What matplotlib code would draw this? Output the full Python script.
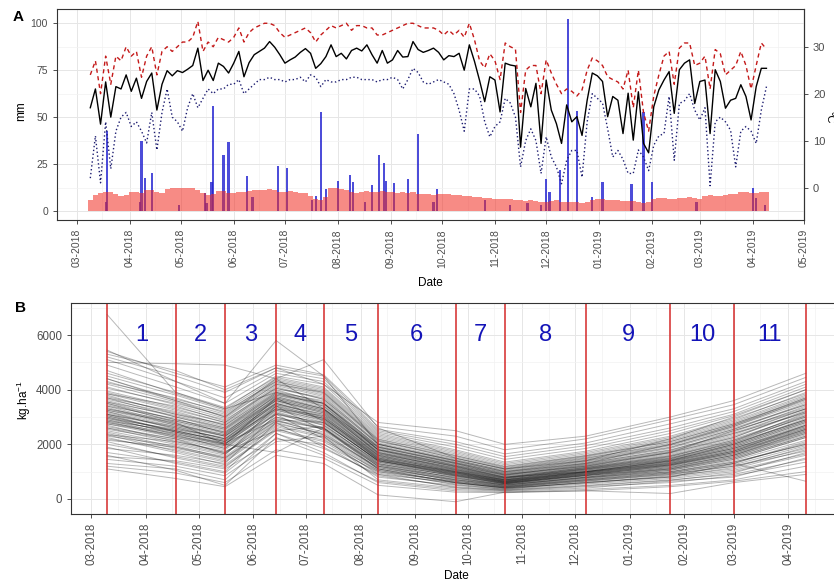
import numpy as np
import pandas as pd
import matplotlib
matplotlib.use("Agg")
import matplotlib.pyplot as plt
import matplotlib.dates as mdates
from matplotlib.ticker import MultipleLocator

plt.rcParams["font.family"] = ["Liberation Sans", "DejaVu Sans"]
plt.rcParams["mathtext.fontset"] = "custom"
plt.rcParams["mathtext.rm"] = "Liberation Sans"
plt.rcParams["mathtext.default"] = "regular"

# weather station, one reading every third day from 9 March 2018
weather_start = "2018-03-09"

tmean = [17, 21, 13.5, 22.5, 15, 21.5, 21, 24, 20.5, 23.3, 19, 22.6, 24.4, 16.5, 22, 24.9,
         23.8, 24.9, 24.5, 25.2, 26, 29.7, 22.8, 25, 22.8, 26.5, 25.8, 24.4, 26.5, 29, 23.6,
         26.6, 28.3, 29, 29.7, 31.1, 29.9, 28.3, 26.5, 27.2, 27.8, 28.8, 29.6, 28.6, 25.4,
         26.4, 27.9, 30.4, 27.9, 28.6, 27.4, 29.2, 29.7, 29.1, 30.4, 28.3, 26.5, 29.2, 26.5,
         27.2, 29.2, 27.8, 27.9, 31.1, 29.4, 28.8, 29.2, 29.7, 28.8, 27.2, 28.1, 27.9, 28.6,
         25, 30.4, 26.9, 22.8, 18.3, 23.6, 22.9, 16.1, 26.5, 26.1, 25.9, 8.6, 21.1, 17.2,
         22.2, 9.4, 22.9, 16.5, 13.6, 9.4, 17.6, 14, 15.1, 11.1, 18.6, 24.4, 23.8, 22.6,
         15.1, 19.4, 18.6, 11.5, 20.1, 10.1, 20.4, 9.4, 7.4, 17.2, 20.8, 22.9, 24.7, 15.8,
         25.1, 26.5, 27.2, 17.9, 22.6, 22.9, 11.5, 25.1, 22.6, 16.9, 18.6, 19, 21.9, 19.4,
         14.4, 21.5, 25.4, 25.4]

tmax = [24, 27, 20, 28, 22, 28, 27, 30, 28, 29, 23.5, 28, 30, 24, 29, 30,
        29, 30, 31, 31, 32, 35.4, 29, 31, 30, 32, 31.5, 31, 32, 34, 31,
        33, 34, 34.5, 35, 35, 34.5, 33, 32, 32.5, 33, 33.5, 34, 33, 31,
        32.5, 33.5, 34.5, 34, 34.5, 35, 33.5, 34.5, 34.5, 34, 34, 32.5, 32.5, 33,
        33.5, 34, 34.5, 35, 35, 34.5, 34, 34, 34, 33.5, 32.5, 33.5, 32.5, 33.5,
        32, 35, 31.5, 27, 25.5, 28.5, 27, 23, 30.8, 30, 29.5, 16, 25, 26,
        26, 20, 27.2, 24.4, 22, 20, 21, 20.5, 19.5, 20.8, 25, 27.6, 27, 26,
        23.6, 23, 22.5, 21, 25, 17, 25, 16, 12, 19.5, 24, 28, 29, 22,
        29.7, 30.8, 30.8, 26, 26.5, 28, 21, 29.4, 28.5, 24, 25, 26, 29, 26,
        21, 26, 30.8, 29.5]

tmin = [2, 11, 1, 14, 4, 12, 15, 16, 13, 14, 12, 9.5, 16, 8, 16, 21,
        15, 14, 12, 17, 20, 17, 19, 21, 20, 21, 21, 22, 22, 23, 20,
        21, 22, 23, 23, 23.5, 23, 23, 22.5, 23, 23, 23.5, 22.5, 24, 23.5,
        21.5, 23, 22.5, 22.5, 23, 23, 23.5, 23.5, 23, 23, 23, 22.5, 23, 23,
        23.5, 23, 21, 23, 25.4, 24.5, 22.5, 22, 22.5, 23, 22.5, 22, 20, 16.5,
        12, 21, 21, 19.5, 14, 10.8, 13, 14, 19, 18, 15, 4.4, 10, 12.5,
        10, 3, 10.8, 6.5, 4.4, 0.8, 5.8, 7.9, 7.9, 2.2, 14, 20, 19, 18,
        12.5, 6.5, 7.9, 6, 3, 3, 8, 6.5, 3.6, 9, 11, 11.5, 19.4, 5.8,
        17.9, 18.5, 20, 16.5, 14.4, 17, 0.4, 14, 15, 14, 12.2, 4.4, 12, 13,
        12, 9.4, 16.5, 21.5]

# evapotranspiration (mm) on the same days
evap = [6, 8.5, 9.5, 10, 10, 9, 8, 8.5, 10, 10, 9.5, 11, 11, 10, 9.5, 11.5,
        12, 12, 12, 12.5, 12, 11, 9.5, 8.5, 9, 10.5, 10.5, 9.5, 9.5, 10, 10,
        10.5, 11, 11, 11, 11.5, 11, 10, 10, 10.5, 10, 9.5, 9.5, 8, 6.5,
        6, 7.5, 12, 12.5, 11.5, 11, 10, 9.5, 10, 10.5, 10, 10, 10.5, 10,
        10, 9.5, 10, 9.5, 10, 9, 9, 9, 8.5, 9, 9, 9, 8.5, 8.5,
        8, 8, 7.5, 7.5, 7, 7, 6.5, 6.5, 6.5, 6.5, 6, 6, 5.5, 6,
        5.5, 5, 5, 5.5, 6, 5, 5, 5, 5, 4.5, 5, 6, 6.5, 6.5,
        6, 6, 6, 5.5, 5.5, 5.5, 5, 4.5, 5, 6.5, 7, 7, 6.5, 6.5,
        7, 7, 7.5, 7, 6.5, 8, 8.5, 8, 8, 8.5, 9, 9, 10, 10,
        9.5, 9.5, 10, 10]

# rainfall events (mm)
rain_dates = ["2018-03-18", "2018-03-19", "2018-04-07", "2018-04-08", "2018-04-10",
              "2018-04-14", "2018-04-30", "2018-05-15", "2018-05-16", "2018-05-19",
              "2018-05-20", "2018-05-26", "2018-05-29", "2018-06-09", "2018-06-12",
              "2018-06-27", "2018-07-02", "2018-07-17", "2018-07-19", "2018-07-22",
              "2018-07-25", "2018-08-01", "2018-08-08", "2018-08-10", "2018-08-17",
              "2018-08-21", "2018-08-25", "2018-08-28", "2018-08-29", "2018-09-03",
              "2018-09-11", "2018-09-17", "2018-09-26", "2018-09-28", "2018-10-26",
              "2018-11-10", "2018-11-20", "2018-11-28", "2018-12-01", "2018-12-03",
              "2018-12-09", "2018-12-14", "2018-12-19", "2018-12-28", "2019-01-03",
              "2019-01-20", "2019-01-27", "2019-02-01", "2019-02-27", "2019-04-01",
              "2019-04-03", "2019-04-08"]
rain_mm = [5, 42.7, 5, 37.4, 17.4, 20, 3, 9.8, 4, 15.6,
           55.9, 29.8, 36.9, 18.8, 7.6, 24, 23, 6, 8, 52.6,
           11.7, 16, 19, 15.6, 5, 14, 30, 25.7, 16, 15,
           17, 41, 5, 11.7, 6, 3, 4.4, 3, 17, 10,
           22, 102.5, 53.5, 7.6, 15.7, 14.2, 52.5, 15.6, 5, 12.5,
           6.7, 3]

# biomass sampling dates and one row per plot (kg/ha)
sample_dates = ["2018-03-10", "2018-04-18", "2018-05-16", "2018-06-14", "2018-07-11",
                "2018-08-11", "2018-09-24", "2018-10-22", "2018-12-07", "2019-01-24",
                "2019-03-01", "2019-04-11"]
biomass = [
    [6750, 3900, 3300, 3900, 3500, 1800, 1200, 800, 1000, 1400, 2000, 2900],
    [5000, 4950, 4900, 4400, 3300, 1900, 1300, 900, 1200, 1700, 2500, 3300],
    [5450, 4300, 3500, 5800, 4500, 2000, 1400, 1000, 1300, 2000, 2700, 3700],
    [4400, 3600, 3000, 4400, 5100, 2600, 1500, 1100, 1400, 2200, 3000, 4000],
    [5300, 4700, 4000, 4800, 4200, 2800, 2500, 2000, 2300, 3000, 3600, 4600],
    [1100, 750, 450, 1600, 1300, 150, -100, 250, 300, 200, 600, 900],
    [3500, 2800, 2000, 1700, 2600, 1100, 600, 400, 600, 800, 1300, 650],
    [1200, 950, 600, 1800, 1500, 500, 250, 230, 300, 450, 650, 1000],
    [1300, 1100, 700, 2400, 1700, 600, 300, 250, 350, 500, 700, 1200],
    [1450, 1200, 850, 2100, 2300, 700, 400, 300, 450, 600, 850, 1350],
    [1600, 1050, 500, 2250, 1600, 650, 350, 280, 400, 650, 800, 1500],
    [1700, 1350, 1000, 2800, 1900, 850, 450, 330, 500, 700, 900, 1450],
    [1550, 1400, 1100, 2200, 2000, 800, 500, 350, 550, 750, 1000, 1600],
    [1900, 1300, 950, 2400, 1850, 900, 420, 320, 480, 680, 950, 1700],
    [2000, 1550, 1200, 2500, 2100, 950, 550, 380, 600, 800, 1050, 1650],
    [1850, 1600, 1300, 3100, 2200, 900, 600, 400, 580, 850, 1100, 1800],
    [2100, 1500, 1150, 2600, 2000, 1000, 520, 360, 620, 820, 1150, 1900],
    [2250, 1700, 1250, 2550, 2150, 1050, 580, 420, 650, 880, 1200, 1750],
    [2200, 1800, 1400, 2700, 2300, 1050, 620, 430, 680, 900, 1250, 1950],
    [2350, 1750, 1350, 2650, 2250, 1000, 650, 440, 700, 950, 1300, 2050],
    [2150, 1900, 1450, 2800, 2350, 1100, 600, 410, 660, 920, 1200, 1850],
    [2400, 1850, 1500, 2750, 2400, 1150, 680, 460, 720, 980, 1350, 2000],
    [2300, 1950, 1500, 2850, 2450, 1100, 700, 470, 740, 1000, 1400, 2150],
    [2500, 2000, 1600, 3400, 2500, 1200, 650, 450, 700, 950, 1300, 2100],
    [2450, 1900, 1550, 2900, 2350, 1150, 720, 480, 760, 1050, 1450, 2250],
    [2600, 2050, 1650, 2950, 2550, 1200, 750, 500, 780, 1000, 1350, 2000],
    [2350, 2100, 1700, 2850, 2600, 1250, 700, 520, 800, 1100, 1500, 2300],
    [2550, 2150, 1700, 3000, 2550, 1250, 780, 500, 800, 1080, 1500, 2300],
    [2700, 2100, 1750, 2500, 2650, 1300, 760, 540, 820, 1120, 1550, 2400],
    [2650, 2200, 1800, 3000, 2600, 1200, 800, 520, 780, 1050, 1450, 2250],
    [2750, 2250, 1850, 3100, 2700, 1350, 820, 550, 850, 1150, 1600, 2450],
    [2600, 2200, 1650, 3150, 2600, 1280, 850, 560, 860, 1100, 1550, 2350],
    [2800, 2300, 1900, 3150, 2750, 1300, 840, 560, 860, 1150, 1600, 2500],
    [2850, 2250, 1950, 3200, 2700, 1350, 870, 580, 880, 1200, 1650, 2550],
    [2750, 2350, 1850, 3250, 2800, 1400, 860, 570, 900, 1180, 1600, 2400],
    [2900, 2300, 2000, 3700, 2850, 1380, 900, 600, 870, 1220, 1700, 2600],
    [2800, 2400, 1950, 3100, 2800, 1420, 880, 590, 920, 1250, 1700, 2500],
    [2950, 2400, 2000, 3300, 2850, 1400, 920, 600, 900, 1250, 1700, 2550],
    [2900, 2450, 2050, 3250, 2900, 1450, 900, 620, 940, 1280, 1750, 2650],
    [3000, 2350, 2050, 2900, 2800, 1400, 950, 610, 950, 1300, 1800, 2600],
    [2850, 2500, 2100, 3300, 2950, 1480, 930, 640, 920, 1230, 1650, 2450],
    [3050, 2450, 2000, 3400, 2900, 1450, 960, 630, 960, 1260, 1750, 2700],
    [3000, 2500, 2100, 3350, 2950, 1500, 960, 650, 980, 1320, 1800, 2700],
    [3100, 2450, 2150, 3400, 3000, 1450, 1000, 660, 1000, 1350, 1850, 2650],
    [2950, 2550, 2150, 3300, 3050, 1520, 980, 640, 990, 1300, 1750, 2550],
    [3100, 2600, 2200, 3450, 2950, 1550, 1020, 680, 1010, 1380, 1900, 2800],
    [3050, 2500, 2100, 3500, 3050, 1500, 990, 670, 970, 1340, 1850, 2750],
    [3150, 2600, 2200, 3450, 3100, 1550, 1030, 690, 1030, 1400, 1900, 2800],
    [3200, 2550, 2250, 3500, 3000, 1600, 1050, 700, 1050, 1420, 1950, 2850],
    [3100, 2650, 2200, 3550, 3150, 1580, 1000, 700, 1000, 1380, 1850, 2700],
    [3250, 2700, 2300, 3500, 3100, 1620, 1080, 720, 1060, 1450, 2000, 2900],
    [3200, 2650, 2300, 3600, 3200, 1600, 1060, 710, 1080, 1430, 1950, 2850],
    [3300, 2750, 2300, 3600, 3150, 1650, 1100, 740, 1100, 1480, 2000, 2950],
    [3350, 2700, 2350, 3650, 3250, 1680, 1120, 760, 1120, 1500, 2050, 2900],
    [3250, 2800, 2400, 3600, 3200, 1700, 1080, 750, 1090, 1470, 2100, 3000],
    [3400, 2750, 2350, 3700, 3300, 1650, 1150, 780, 1140, 1520, 2050, 3050],
    [3300, 2850, 2450, 3650, 3250, 1720, 1130, 770, 1110, 1550, 2150, 3000],
    [3450, 2850, 2450, 3700, 3300, 1750, 1180, 800, 1150, 1580, 2150, 3100],
    [3500, 2900, 2500, 3750, 3350, 1700, 1200, 820, 1180, 1600, 2200, 3050],
    [3400, 2950, 2400, 3800, 3400, 1780, 1170, 790, 1160, 1560, 2100, 3150],
    [3550, 2900, 2550, 3750, 3300, 1800, 1220, 840, 1200, 1640, 2250, 3200],
    [3600, 3000, 2550, 3850, 3450, 1800, 1250, 860, 1220, 1680, 2300, 3200],
    [3550, 3050, 2600, 3800, 3500, 1850, 1230, 880, 1240, 1700, 2250, 3250],
    [3700, 3000, 2600, 3900, 3400, 1820, 1280, 870, 1260, 1720, 2350, 3300],
    [3650, 3100, 2650, 3850, 3500, 1880, 1300, 900, 1280, 1750, 2400, 3150],
    [3750, 3150, 2700, 3950, 3550, 1900, 1320, 920, 1300, 1800, 2400, 3300],
    [3800, 3100, 2750, 4000, 3500, 1950, 1350, 940, 1320, 1780, 2450, 3400],
    [3700, 3200, 2700, 3900, 3600, 1920, 1330, 960, 1350, 1850, 2500, 3350],
    [3850, 3250, 2800, 4050, 3650, 2000, 1380, 980, 1380, 1880, 2550, 3450],
    [3900, 3300, 2800, 4100, 3650, 2000, 1400, 1000, 1400, 1900, 2550, 3500],
    [3950, 3350, 2900, 4050, 3700, 2050, 1450, 1020, 1420, 1950, 2600, 3450],
    [3850, 3400, 2850, 4150, 3750, 2020, 1420, 1050, 1450, 1980, 2650, 3550],
    [4100, 3450, 2950, 4200, 3800, 2100, 1500, 1080, 1480, 2050, 2700, 3600],
    [4050, 3500, 3050, 4250, 3850, 2150, 1480, 1100, 1500, 2000, 2650, 3650],
    [4200, 3550, 3000, 4200, 3900, 2120, 1550, 1120, 1530, 2100, 2750, 3700],
    [4300, 3600, 3100, 4300, 3950, 2200, 1600, 1150, 1560, 2150, 2800, 3750],
    [4250, 3700, 3150, 4350, 4000, 2250, 1650, 1200, 1600, 2200, 2850, 3800],
    [4400, 3650, 3200, 4300, 3900, 2180, 1580, 1180, 1580, 2100, 2750, 3650],
    [4500, 3800, 3250, 4400, 4050, 2300, 1700, 1250, 1650, 2250, 2900, 3900],
    [4600, 3900, 3350, 4450, 4100, 2350, 1750, 1300, 1700, 2300, 2950, 3850],
    [4700, 3850, 3300, 4500, 4200, 2400, 1800, 1350, 1750, 2400, 3050, 4000],
    [4900, 4100, 3500, 4600, 4300, 2450, 1900, 1450, 1850, 2500, 3100, 4100],
    [5100, 4300, 3700, 4700, 4400, 2500, 2000, 1550, 1950, 2600, 3200, 4200],
    [5200, 4500, 3900, 4800, 4500, 2550, 2100, 1650, 2050, 2750, 3300, 4300],
    [5400, 4600, 4100, 4900, 4550, 2650, 2300, 1800, 2200, 2900, 3450, 4450],
]

W, H = 834, 584
fig = plt.figure(figsize=(W / 100, H / 100), dpi=100)

# both panels share the same date window
xlim = (mdates.date2num(pd.Timestamp("2018-02-17 12:00")),
        mdates.date2num(pd.Timestamp("2019-05-01")))

tick_grey = "#4D4D4D"
frame = "#333333"


def style_axes(ax, size, last_month):
    for s in ax.spines.values():
        s.set_color(frame)
        s.set_linewidth(0.8)
    ax.set_facecolor("white")
    ax.set_axisbelow(True)
    ax.grid(which="major", color="#E6E6E6", lw=0.7)
    ax.grid(which="minor", color="#F2F2F2", lw=0.5)
    ax.tick_params(which="major", length=3, width=0.6, color=frame,
                   labelsize=size, labelcolor=tick_grey)
    ax.tick_params(which="minor", length=0)
    months = pd.date_range("2018-03-01", last_month, freq="MS")
    ax.set_xticks(mdates.date2num(months))
    ax.xaxis.set_minor_locator(mdates.MonthLocator(bymonthday=16))
    ax.xaxis.set_major_formatter(mdates.DateFormatter("%m-%Y"))
    ax.tick_params(axis="x", labelrotation=90)
    ax.set_xlim(*xlim)


# ---- panel A: weather ----
axA = fig.add_axes([57 / W, 1 - 220 / H, 747 / W, 211 / H])
style_axes(axA, 7.5, "2019-05-01")

wx = mdates.date2num(pd.date_range(weather_start, periods=len(tmean), freq="3D"))
rx = mdates.date2num(pd.to_datetime(rain_dates))


def to_mm(t):
    # right axis: degC = mm / 2.5 - 5
    return (np.asarray(t) + 5) * 2.5


axA.bar(rx, rain_mm, width=1.3, color="#2020D0", alpha=0.8, linewidth=0)
axA.bar(wx, evap, width=3.0, color="#F22C22", alpha=0.55, linewidth=0)
axA.plot(wx, to_mm(tmax), color="#C41A1A", lw=1.0, ls=(0, (3, 2.5)))
axA.plot(wx, to_mm(tmin), color="#1C1C70", lw=1.0, ls=(0, (1, 1.8)))
axA.plot(wx, to_mm(tmean), color="black", lw=1.0)

axA.set_ylim(-4.8, 107.6)
axA.set_yticks([0, 25, 50, 75, 100])
axA.yaxis.set_minor_locator(MultipleLocator(12.5))

sec = axA.secondary_yaxis("right", functions=(lambda m: m / 2.5 - 5, lambda t: (t + 5) * 2.5))
sec.set_yticks([0, 10, 20, 30])
sec.tick_params(length=3, width=0.6, color=frame, labelsize=8, labelcolor=tick_grey)
sec.spines["right"].set_color(frame)

fig.text(21 / W, 1 - 111 / H, "mm", rotation=90, ha="center", va="center", fontsize=8.5)
fig.text(829 / W, 1 - 117 / H, "°C", rotation=-90, ha="center", va="center", fontsize=8)
fig.text(430 / W, 1 - 283 / H, "Date", ha="center", va="center", fontsize=8.5)
fig.text(18 / W, 1 - 17 / H, "A", ha="center", va="center", fontsize=11, fontweight="bold")

# ---- panel B: biomass per sampling interval ----
axB = fig.add_axes([71 / W, 1 - 514 / H, 770 / W, 211 / H])
style_axes(axB, 8.3, "2019-04-01")

sx = mdates.date2num(pd.to_datetime(sample_dates))
for row in biomass:
    axB.plot(sx, row, color="black", alpha=0.28, lw=0.7)
for d in sx:
    axB.axvline(d, color="#D42A2A", lw=1.1)

mid = (sx[:-1] + sx[1:]) / 2
for k, m in enumerate(mid):
    axB.text(m, 6000, str(k + 1), color="#1414B8", fontsize=17, ha="center", va="center")

axB.set_ylim(-549, 7172)
axB.set_yticks([0, 2000, 4000, 6000])
axB.yaxis.set_minor_locator(MultipleLocator(1000))

fig.text(24 / W, 1 - 400 / H, "kg.ha$^{-1}$", rotation=90, ha="center", va="center", fontsize=8.5)
fig.text(456 / W, 1 - 576 / H, "Date", ha="center", va="center", fontsize=8.5)
fig.text(20 / W, 1 - 308 / H, "B", ha="center", va="center", fontsize=11, fontweight="bold")

fig.savefig("out.png", dpi=100)
